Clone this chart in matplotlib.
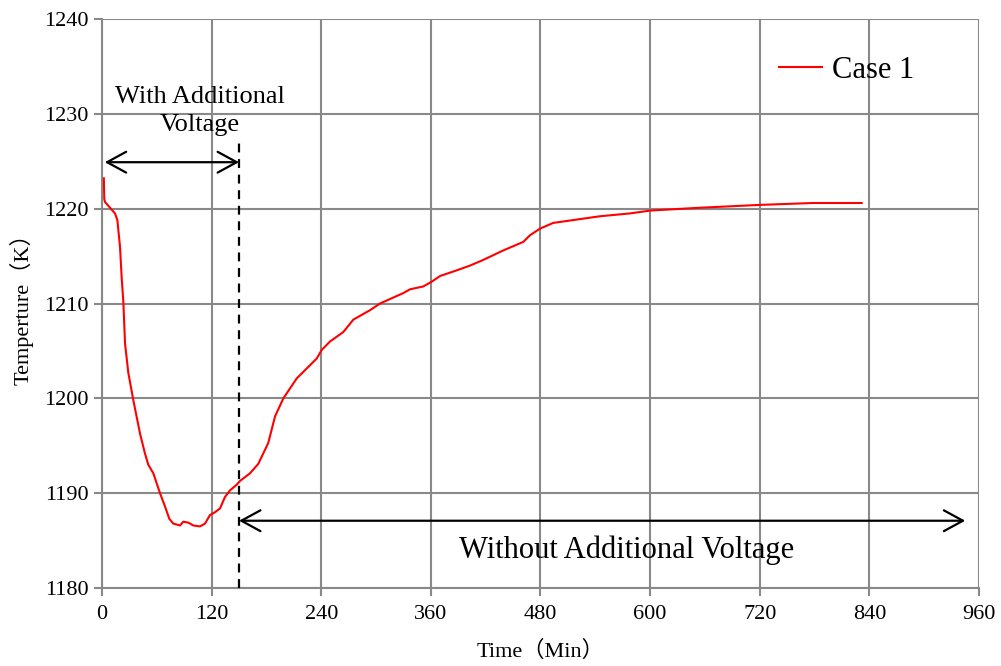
import matplotlib
matplotlib.use("Agg")
import matplotlib.pyplot as plt

# Furnace temperature record for Case 1 (time in minutes, temperature in K)
time_min = [2, 2.5, 3.3, 8.8, 14.2, 16.8, 19.7, 21.5, 23.4, 25.2, 28.8, 34.3,
            41.6, 47.0, 50.7, 56.2, 63.5, 69.0, 73.7, 78.0, 85.4, 89.0, 94.5,
            100.0, 107.3, 112.8, 118.2, 123.7, 129.2, 134.6, 140.1, 147.4,
            151.1, 162.0, 171.1, 182.0, 189.4, 198.5, 213.1, 235.0, 240.5,
            249.6, 264.2, 275.1, 293.4, 304.3, 329.8, 337.2, 351.7, 360.9,
            370.0, 388.3, 402.8, 417.4, 439.3, 461.2, 468.5, 479.5, 494.0,
            515.9, 545.0, 578.0, 600.0, 654.6, 720.3, 778.6, 831.6]
temp_k = [1223.2, 1221.0, 1220.7, 1220.1, 1219.5, 1218.8, 1216.0, 1212.8,
          1210.1, 1205.8, 1202.7, 1199.8, 1196.3, 1194.2, 1193.0, 1192.1,
          1190.0, 1188.6, 1187.3, 1186.8, 1186.6, 1187.0, 1186.9, 1186.6,
          1186.5, 1186.8, 1187.7, 1188.0, 1188.4, 1189.6, 1190.3, 1190.9,
          1191.3, 1192.1, 1193.1, 1195.3, 1198.1, 1200.0, 1202.1, 1204.2,
          1205.1, 1206.0, 1207.0, 1208.3, 1209.3, 1210.0, 1211.1, 1211.5,
          1211.8, 1212.3, 1212.9, 1213.5, 1214.0, 1214.6, 1215.6, 1216.5,
          1217.2, 1217.9, 1218.5, 1218.8, 1219.2, 1219.5, 1219.8, 1220.1,
          1220.4, 1220.6, 1220.6]

x_ticks = [0, 120, 240, 360, 480, 600, 720, 840, 960]
y_ticks = [1180, 1190, 1200, 1210, 1220, 1230, 1240]

voltage_off_time = 150          # end of the additional-voltage stage
series_label = "Case 1"

SERIF = ["Liberation Serif", "Noto Sans CJK SC"]
GRID = "#898989"

plt.rcParams["font.family"] = SERIF

fig = plt.figure(figsize=(10.01, 6.66), dpi=100)
ax = fig.add_axes([0.1019, 0.117, 0.8761, 0.8545])

ax.plot(time_min, temp_k, color="red", lw=1.5, label=series_label, zorder=3)

ax.set_xlim(x_ticks[0], x_ticks[-1])
ax.set_ylim(y_ticks[0], y_ticks[-1])
ax.set_xticks(x_ticks)
ax.set_yticks(y_ticks)
ax.grid(True, color=GRID, lw=1.5)
ax.set_axisbelow(True)
for side in ("top", "right"):
    ax.spines[side].set_visible(False)
for side in ("left", "bottom"):
    ax.spines[side].set_color(GRID)
    ax.spines[side].set_linewidth(1.5)
ax.tick_params(axis="both", colors=GRID, labelcolor="black", labelsize=16,
               length=6, width=1.5, direction="out")
ax.tick_params(axis="x", pad=6)

ax.set_xlabel("Time（Min）", fontsize=16, family=SERIF, labelpad=12)
ax.set_ylabel("Temperture（K）", fontsize=16, family=SERIF, labelpad=8)

# stage boundary and stage arrows
ax.plot([voltage_off_time, voltage_off_time], [1180, 1227.1], color="black",
        lw=1.6, dashes=(4, 3), zorder=4)
arrow_kw = dict(arrowstyle="<->,head_length=0.55,head_width=0.3",
                color="black", lw=1.6, shrinkA=0, shrinkB=0,
                mutation_scale=25)
ax.annotate("", xy=(3, 1224.9), xytext=(voltage_off_time, 1224.9),
            arrowprops=arrow_kw, zorder=4)
ax.annotate("", xy=(voltage_off_time, 1187.1), xytext=(945, 1187.1),
            arrowprops=arrow_kw, zorder=4)

ax.text(107, 1230.3, "With Additional\nVoltage", fontsize=19, ha="center",
        va="center", linespacing=1.3)
ax.text(574, 1184.0, "Without Additional Voltage", fontsize=22,
        ha="center", va="center")

ax.legend(loc="center left", bbox_to_anchor=(0.758, 0.91), frameon=False,
          fontsize=22, handlelength=1.4, handletextpad=0.35,
          borderaxespad=0)

fig.savefig("out.png", dpi=100)
